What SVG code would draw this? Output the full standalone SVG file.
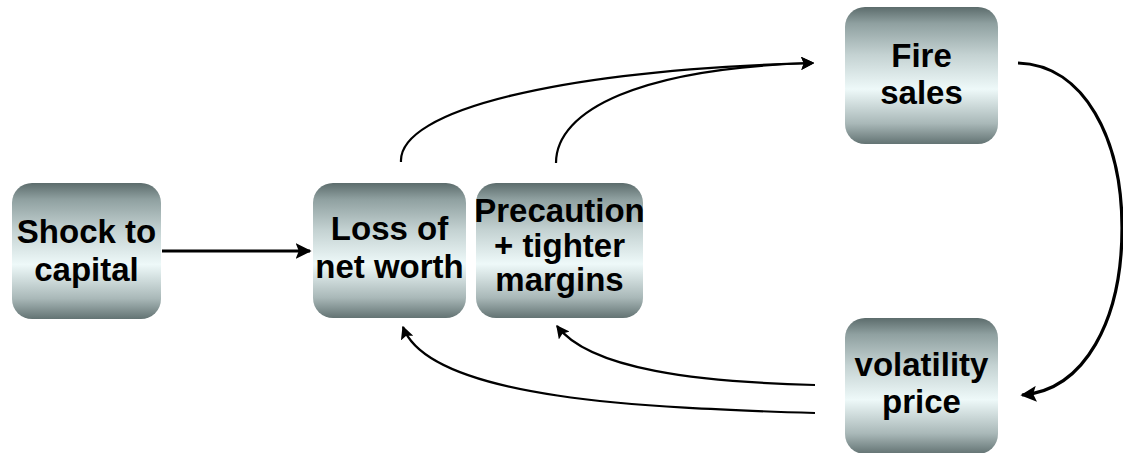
<svg xmlns="http://www.w3.org/2000/svg" width="1123" height="453" viewBox="0 0 1123 453">
<defs>
<linearGradient id="g" x1="0" y1="0" x2="0" y2="1">
<stop offset="0" stop-color="#5c6c6c"/>
<stop offset="0.12" stop-color="#8fa0a0"/>
<stop offset="0.35" stop-color="#c4d2d2"/>
<stop offset="0.6" stop-color="#eef9f9"/>
<stop offset="0.85" stop-color="#a9b8b8"/>
<stop offset="1" stop-color="#637373"/>
</linearGradient>
<marker id="ah" viewBox="0 0 10 10" refX="9" refY="5" markerWidth="5" markerHeight="5" orient="auto" markerUnits="strokeWidth">
<path d="M0,0 L10,5 L0,10 L2,5 Z" fill="#000"/>
</marker>
<marker id="ahs" viewBox="0 0 10 10" refX="9" refY="5" markerWidth="6" markerHeight="6" orient="auto" markerUnits="strokeWidth">
<path d="M0,0 L10,5 L0,10 L2,5 Z" fill="#000"/>
</marker>
</defs>
<style>
.box{fill:url(#g);}
.t{font-family:"Liberation Sans",Arial,sans-serif;font-weight:bold;font-size:33px;fill:#000;text-anchor:middle;}
.thick{fill:none;stroke:#000;stroke-width:3.2;}
.thin{fill:none;stroke:#000;stroke-width:2.2;}
</style>
<g id="connectors">
<path class="thick" d="M162,251 L310,251" marker-end="url(#ah)"/>
<path class="thin" d="M401,162 C398,110 560,70 813,63" marker-end="url(#ahs)"/>
<path class="thin" d="M556,163 C556,110 640,68 813,63" marker-end="url(#ahs)"/>
<path class="thick" d="M1018,63 C1085,65 1122,140 1122,228 C1122,320 1085,390 1022,395" marker-end="url(#ah)"/>
<path class="thin" d="M815,385 C700,382 590,370 557,326" marker-end="url(#ahs)"/>
<path class="thin" d="M815,413 C650,408 430,400 403,327" marker-end="url(#ahs)"/>
</g>
<g id="shock">
<rect class="box" x="12" y="183" width="149" height="136" rx="20"/>
<text class="t" x="86.5" y="243">Shock to</text>
<text class="t" x="86.5" y="281">capital</text>
</g>
<g id="loss">
<rect class="box" x="313" y="183" width="153" height="135" rx="20"/>
<text class="t" x="389.5" y="240">Loss of</text>
<text class="t" x="389.5" y="278">net worth</text>
</g>
<g id="precaution">
<rect class="box" x="476" y="183" width="167" height="135" rx="20"/>
<text class="t" x="559.5" y="222">Precaution</text>
<text class="t" x="559.5" y="257">+ tighter</text>
<text class="t" x="559.5" y="291">margins</text>
</g>
<g id="fire">
<rect class="box" x="845" y="7" width="153" height="137" rx="20"/>
<text class="t" x="921.5" y="67">Fire</text>
<text class="t" x="921.5" y="104">sales</text>
</g>
<g id="volatility">
<rect class="box" x="845" y="318" width="153" height="136" rx="20"/>
<text class="t" x="921.5" y="376">volatility</text>
<text class="t" x="921.5" y="413">price</text>
</g>
</svg>
